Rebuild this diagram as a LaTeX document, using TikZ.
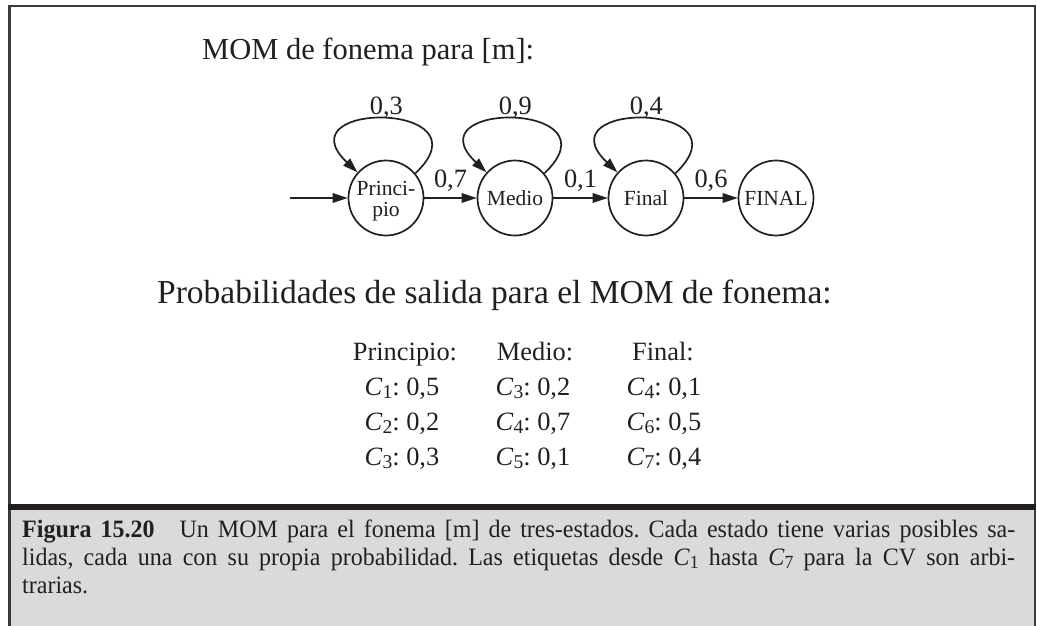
\documentclass[tikz,border=0pt]{standalone}
\usepackage{fontspec}
\usepackage{graphicx}
\setmainfont{Liberation Serif}
\newfontfamily\capfont[FakeStretch=0.96]{Liberation Serif}
\usetikzlibrary{arrows.meta}
\definecolor{ink}{HTML}{231F20}
\definecolor{capgray}{HTML}{DADADA}
\definecolor{framec}{HTML}{3A3A3A}
\newcommand{\Cs}[1]{\textit{C}\raisebox{-0.32ex}{\scalebox{0.74}{#1}}}
\frenchspacing
\begin{document}
\begin{tikzpicture}[x=1pt,y=-1pt,
  every node/.style={text=ink},
  state/.style={circle, draw=ink, line width=1.7pt, minimum size=75pt, inner sep=0pt,
    align=center, font=\fontsize{21.5}{20.5}\selectfont},
  arr/.style={draw=ink, line width=1.7pt, -{Triangle[length=15pt,width=9.5pt]}},
  lab/.style={font=\fontsize{26.4}{30}\selectfont, anchor=base, inner sep=0pt},
  big/.style={anchor=base west, inner sep=0pt},
  tab/.style={font=\fontsize{26.4}{30}\selectfont, anchor=base, inner sep=0pt},
  capline/.style={font=\capfont\fontsize{25}{28}\selectfont, anchor=base west, inner sep=0pt}]
\useasboundingbox (0,0) rectangle (1037,626);
% frame and caption box
\fill[capgray] (9.5,507) rectangle (1035,640);
\draw[framec, line width=2.2pt] (9.5,640) -- (9.5,6) -- (1035,6) -- (1035,640);
\draw[ink, line width=5.5pt] (8.4,507) -- (1036.1,507);
% headings
\node[big, font=\fontsize{30.5}{36}\selectfont] (title) at (202,60) {MOM de fonema para [m]:};
\node[big, font=\fontsize{33.5}{38}\selectfont] (prob) at (157,303) {Probabilidades de salida para el MOM de fonema:};
% states
\node[state] (P) at (386,198) {\rule{0pt}{21pt}Princi-\\pio};
\node[state] (M) at (515,198) {Medio};
\node[state] (F) at (646,198) {Final};
\node[state] (E) at (776,198) {FINAL};
\coordinate (in) at (290,198);
% transitions
\draw[arr] (in) -- (P);
\draw[arr] (P) -- node[lab, midway, yshift=11pt] (l7) {0,7} (M);
\draw[arr] (M) -- node[lab, midway, yshift=11pt] (l1) {0,1} (F);
\draw[arr] (F) -- node[lab, midway, yshift=11pt] (l6) {0,6} (E);
% self loops
\draw[arr] (P.40) .. controls +(76,-72) and +(-76,-72) .. node[lab, pos=0.5, yshift=4pt] (l3) {0,3} (P.138);
\draw[arr] (M.40) .. controls +(76,-72) and +(-76,-72) .. node[lab, pos=0.5, yshift=4pt] (l9) {0,9} (M.138);
\draw[arr] (F.40) .. controls +(76,-72) and +(-76,-72) .. node[lab, pos=0.5, yshift=4pt] (l4) {0,4} (F.138);
% output probabilities table
\node[tab] (h1) at (405,360) {Principio:};
\node[tab] (h2) at (535,360) {Medio:};
\node[tab] (h3) at (663,360) {Final:};
\node[tab] (a1) at (402,395) {\Cs{1}: 0,5};
\node[tab] (a2) at (402,430) {\Cs{2}: 0,2};
\node[tab] (a3) at (402,465) {\Cs{3}: 0,3};
\node[tab] (b1) at (533,395) {\Cs{3}: 0,2};
\node[tab] (b2) at (533,430) {\Cs{4}: 0,7};
\node[tab] (b3) at (533,465) {\Cs{5}: 0,1};
\node[tab] (c1) at (664,395) {\Cs{4}: 0,1};
\node[tab] (c2) at (664,430) {\Cs{6}: 0,5};
\node[tab] (c3) at (664,465) {\Cs{7}: 0,4};
% caption
\node[capline] (cap1) at (22,537) {\makebox[993pt][s]{\textbf{Figura 15.20}\quad Un MOM para el fonema [m] de tres-estados. Cada estado tiene varias posibles sa-}};
\node[capline] (cap2) at (22,565) {\makebox[993pt][s]{lidas, cada una con su propia probabilidad. Las etiquetas desde \Cs{1} hasta \Cs{7} para la CV son arbi-}};
\node[capline] (cap3) at (22,593) {trarias.};
\end{tikzpicture}
\end{document}
